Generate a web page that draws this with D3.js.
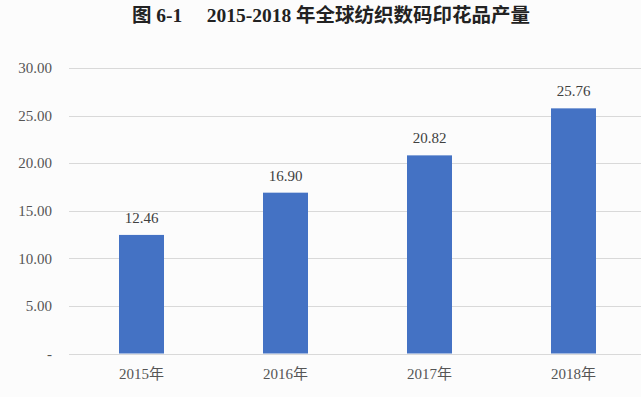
<!DOCTYPE html>
<html><head><meta charset="utf-8">
<script src="https://cdn.jsdelivr.net/npm/d3@7"></script>
<style>
html,body{margin:0;padding:0;background:#fcfcfc;}
svg{display:block;}
</style></head>
<body>
<script>
const title = "图 6-1\u2002\u2002 2015-2018 年全球纺织数码印花品产量";
const categories = ["2015年","2016年","2017年","2018年"];
const values = [12.46, 16.90, 20.82, 25.76];
const yTicks = [0, 5, 10, 15, 20, 25, 30];
const yTickLabels = ["-", "5.00", "10.00", "15.00", "20.00", "25.00", "30.00"];

const W = 641, H = 397;
const FONT = '"Liberation Serif", "Noto Sans CJK SC", serif';
const svg = d3.select("body").append("svg").attr("width", W).attr("height", H);
svg.append("rect").attr("width", W).attr("height", H).attr("fill", "#fcfcfc");

const x = d3.scaleBand().domain(categories).range([69.5, 645.5]).paddingInner(0.6875).paddingOuter(0.34375);
const y = d3.scaleLinear().domain([0, 30]).range([353.5, 68]);

// title
svg.append("text").attr("x", 331).attr("y", 22).attr("text-anchor", "middle")
  .style("font-family", FONT).style("font-weight", "bold").style("font-size", "19.5px")
  .attr("fill", "#222").text(title);

// gridlines
svg.append("g").selectAll("line").data(yTicks).join("line")
  .attr("x1", 69).attr("x2", W).attr("y1", d => Math.round(y(d)) + 0.5).attr("y2", d => Math.round(y(d)) + 0.5)
  .attr("stroke", "#d9d9d9").attr("stroke-width", 1);

// y axis labels
const yAxis = d3.axisLeft(y).tickValues(yTicks).tickFormat((d, i) => yTickLabels[i]).tickSize(0).tickPadding(0);
const gy = svg.append("g").attr("transform", "translate(52,0)").call(yAxis);
gy.select(".domain").remove();
gy.selectAll("text").style("font-family", FONT).style("font-size", "15px").attr("fill", "#555");

// bars
svg.append("g").selectAll("rect").data(values).join("rect")
  .attr("x", (d, i) => x(categories[i])).attr("width", x.bandwidth())
  .attr("y", d => y(d)).attr("height", d => y(0) - y(d))
  .attr("fill", "#4472c4");

// value labels
svg.append("g").selectAll("text").data(values).join("text")
  .attr("x", (d, i) => x(categories[i]) + x.bandwidth() / 2)
  .attr("y", d => y(d) - 12)
  .attr("text-anchor", "middle").style("font-family", FONT).style("font-size", "15px").attr("fill", "#404040")
  .text(d => d.toFixed(2));

// x axis labels
const xAxis = d3.axisBottom(x).tickSize(0).tickPadding(0);
const gx = svg.append("g").attr("transform", "translate(0,368)").call(xAxis);
gx.select(".domain").remove();
gx.selectAll("text").style("font-family", FONT).style("font-size", "15px").attr("fill", "#555");
</script>
</body></html>
